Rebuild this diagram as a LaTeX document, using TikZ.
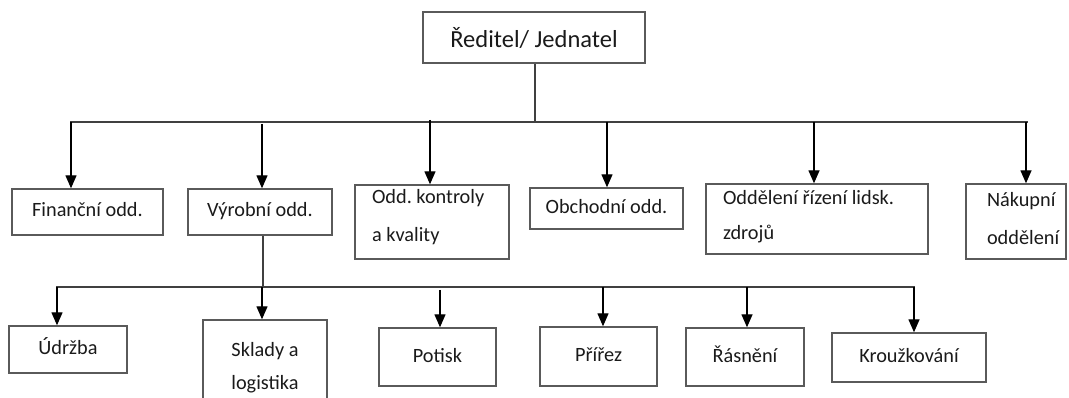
\documentclass[tikz,border=0pt]{standalone}
\usepackage{fontspec}
\setmainfont{Carlito}
\usetikzlibrary{arrows.meta}
\frenchspacing
\definecolor{boxgray}{HTML}{5A5A5A}
\definecolor{linegray}{HTML}{404040}
\definecolor{txt}{HTML}{1A1A1A}
\tikzset{
  box/.style={draw=boxgray, line width=1.4pt, inner sep=0pt, text=txt, align=flush center,
    font=\fontsize{20.3}{24}\selectfont},
  one/.style={box, text height=14pt, text depth=4pt},
  boxl/.style={box, align=flush left},
  bar/.style={draw=linegray, line width=1.4pt},
  arr/.style={draw=black, line width=1.4pt, -{Triangle[width=11pt,length=13pt]}},
}
\begin{document}
\begin{tikzpicture}[x=1pt,y=-1pt]
\useasboundingbox (0,0) rectangle (1069,398);
\clip (0,0) rectangle (1069,398);
% top
\node[box, minimum width=222pt, minimum height=51pt, font=\fontsize{24.5}{29}\selectfont] (top) at (534,37.5) {Ředitel/ Jednatel};
% level 1
\node[one, minimum width=151pt, minimum height=46pt] (fin) at (87.5,212) {Finanční odd.};
\node[one, minimum width=144pt, minimum height=46pt] (vyr) at (260,212) {Výrobní odd.};
\node[boxl, minimum width=154pt, minimum height=74pt, text width=120pt, text depth=52pt, font=\fontsize{20.3}{38}\selectfont] (kon) at (432,222) {Odd. kontroly\\a kvality};
\node[one, minimum width=153pt, minimum height=41pt] (obc) at (606.5,208.5) {Obchodní odd.};
\node[boxl, minimum width=222pt, minimum height=70pt, text width=188pt, text depth=44pt, font=\fontsize{20.3}{35}\selectfont] (odd) at (817,219) {Oddělení řízení lidsk.\\zdrojů};
\node[boxl, minimum width=100pt, minimum height=75pt, text width=58pt, text depth=45pt, font=\fontsize{20.3}{38}\selectfont] (nak) at (1016,221.5) {Nákupní\\oddělení};
% level 2
\node[one, minimum width=118pt, minimum height=47pt] (udr) at (68,349.5) {Údržba};
\node[box, minimum width=124pt, minimum height=96pt, font=\fontsize{20.3}{33}\selectfont] (skl) at (265,368) {Sklady a\\logistika};
\node[one, minimum width=117pt, minimum height=58pt] (pot) at (437.5,357) {Potisk};
\node[one, minimum width=117pt, minimum height=59pt] (pri) at (598.5,356.5) {Přířez};
\node[one, minimum width=118pt, minimum height=58pt] (ras) at (745,357) {Řásnění};
\node[one, minimum width=154pt, minimum height=49pt] (kro) at (909,357.5) {Kroužkování};
% level-1 connectors
\coordinate (j1) at (535,122);
\coordinate (b1l) at (70,122);
\coordinate (b1r) at (1028,122);
\draw[bar] (top.south -| j1) -- (j1);
\draw[bar] (b1l) -- (b1r);
\coordinate (a1) at (71,122);
\coordinate (a2) at (262,124);
\coordinate (a3) at (430,120);
\coordinate (a4) at (607,122);
\coordinate (a5) at (814,122);
\coordinate (a6) at (1026,122);
\draw[arr] (a1) -- (a1 |- fin.north);
\draw[arr] (a2) -- (a2 |- vyr.north);
\draw[arr] (a3) -- (a3 |- kon.north);
\draw[arr] (a4) -- (a4 |- obc.north);
\draw[arr] (a5) -- (a5 |- odd.north);
\draw[arr] (a6) -- (a6 |- nak.north);
% level-2 connectors
\coordinate (j2) at (263,287);
\coordinate (b2l) at (56,287);
\coordinate (b2r) at (915,287);
\draw[bar] (vyr.south -| j2) -- (j2);
\draw[bar] (b2l) -- (b2r);
\coordinate (c1) at (57,287);
\coordinate (c2) at (262,287);
\coordinate (c3) at (440,290);
\coordinate (c4) at (603,287);
\coordinate (c5) at (747,287);
\coordinate (c6) at (914,287);
\draw[arr] (c1) -- (c1 |- udr.north);
\draw[arr] (c2) -- (c2 |- skl.north);
\draw[arr] (c3) -- (c3 |- pot.north);
\draw[arr] (c4) -- (c4 |- pri.north);
\draw[arr] (c5) -- (c5 |- ras.north);
\draw[arr] (c6) -- (c6 |- kro.north);
\end{tikzpicture}
\end{document}
